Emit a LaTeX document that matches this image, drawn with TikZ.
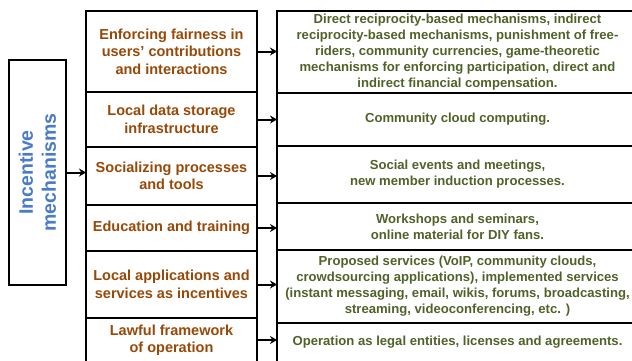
\documentclass[tikz,border=0pt]{standalone}
\usepackage{fontspec}
\setmainfont{Liberation Sans}
\usepackage{xcolor}
\usepackage{tikz}
\usetikzlibrary{positioning, arrows.meta}

\definecolor{mechblue}{HTML}{4A7BCB}
\definecolor{catbrown}{HTML}{984807}
\definecolor{itemgreen}{HTML}{4F6228}

\begin{document}
\begin{tikzpicture}[
    x=1pt, y=-1pt,
    outer sep=0pt,
    catbox/.style={draw, line width=1.2pt, minimum width=171pt, align=center, inner sep=2pt, text=catbrown, font=\fontsize{14.5}{17.5}\selectfont\bfseries},
    itembox/.style={draw, line width=1.2pt, minimum width=361pt, align=center, inner sep=2pt, text=itemgreen, font=\fontsize{13.1}{16}\selectfont\bfseries},
    arr/.style={-{Stealth[length=7pt, width=8pt]}, line width=2pt},
]

% ===== Frame =====
\clip (0,0) rectangle (632,360);

% ===== Main block =====
\node[draw, line width=1.8pt, rotate=90, minimum width=225pt, minimum height=57pt, align=center, text=mechblue, font=\fontsize{19.5}{23}\selectfont\bfseries] (inc) at (37.5,172.5) {Incentive\\mechanisms};

% ===== Categories =====
\node[catbox, minimum height=81pt] (cfair) at (171.5,51.5) {Enforcing fairness in\\users’ contributions\\and interactions};
\node[catbox, minimum height=55pt, below=0pt of cfair] (cstore) {Local data storage\\infrastructure};
\node[catbox, minimum height=58pt, below=0pt of cstore] (csocial) {Socializing processes\\and tools};
\node[catbox, minimum height=46pt, below=0pt of csocial] (cedu) {Education and training};
\node[catbox, minimum height=67pt, below=0pt of cedu] (capps) {Local applications and\\services as incentives};
\node[catbox, minimum height=44pt, below=0pt of capps] (claw) {Lawful framework\\of operation};

% ===== Examples =====
\node[itembox, minimum height=82pt] (ifair) at (457.5,52) {Direct reciprocity-based mechanisms, indirect\\reciprocity-based mechanisms, punishment of free-\\riders, community currencies, game-theoretic\\mechanisms for enforcing participation, direct and\\indirect financial compensation.};
\node[itembox, minimum height=53pt, below=0pt of ifair] (istore) {Community cloud computing.};
\node[itembox, minimum height=57pt, below=0pt of istore] (isocial) {Social events and meetings,\\new member induction processes.};
\node[itembox, minimum height=47pt, below=0pt of isocial] (iedu) {Workshops and seminars,\\online material for DIY fans.};
\node[itembox, minimum height=73pt, below=0pt of iedu] (iapps) {Proposed services (VoIP, community clouds,\\crowdsourcing applications), implemented services\\(instant messaging, email, wikis, forums, broadcasting,\\streaming, videoconferencing, etc. )};
\node[itembox, minimum height=39pt, below=0pt of iapps] (ilaw) {Operation as legal entities, licenses and agreements.};

% ===== Arrows =====
\draw[arr] (inc.south) -- (inc.south -| cfair.west);
\draw[arr] (cfair.east) -- (cfair.east -| ifair.west);
\draw[arr] (cstore.east) -- (cstore.east -| ifair.west);
\draw[arr] (csocial.east) -- (csocial.east -| ifair.west);
\draw[arr] (cedu.east) -- (cedu.east -| ifair.west);
\draw[arr] (capps.east) -- (capps.east -| ifair.west);
\draw[arr] (claw.east) -- (claw.east -| ifair.west);

\end{tikzpicture}
\end{document}
